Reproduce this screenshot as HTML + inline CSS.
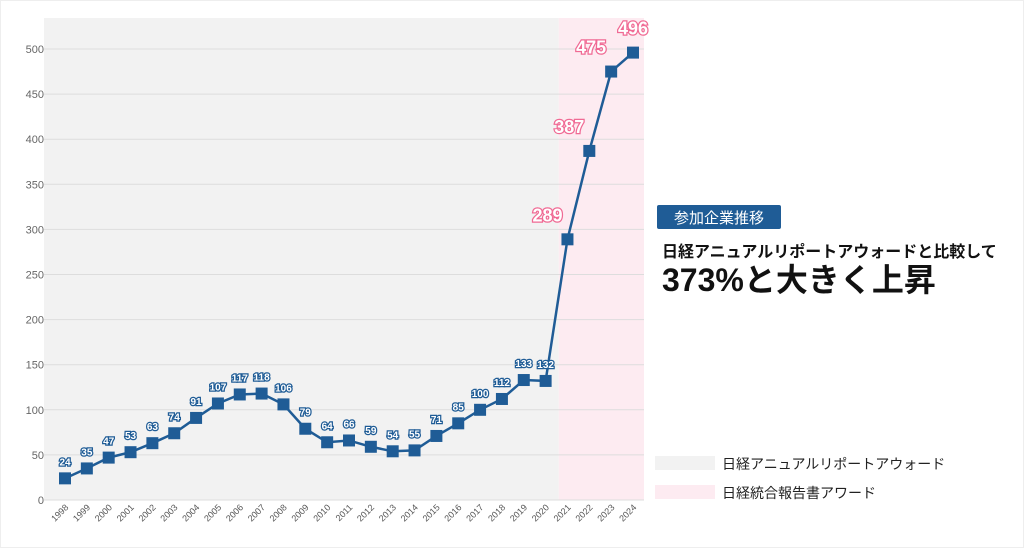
<!DOCTYPE html>
<html><head><meta charset="utf-8"><style>
body{margin:0;background:#fff;width:1024px;height:548px;overflow:hidden;font-family:"Liberation Sans","Noto Sans CJK JP",sans-serif}
svg text{font-family:"Liberation Sans","Noto Sans CJK JP",sans-serif}
</style></head><body>
<svg width="1024" height="548">
<rect x="0.5" y="0.5" width="1023" height="547" fill="#fff" stroke="#eee"/>
<g id="bg"></g><g id="grid"></g><g id="yt"></g><g id="xt"></g><g id="series"></g><g id="labels"></g>
<rect x="657" y="205" width="124" height="24" rx="2" fill="#1f5c96"/>
<text x="719" y="223" font-size="15" fill="#fff" text-anchor="middle">参加企業推移</text>
<text x="662" y="257" font-size="16" font-weight="bold" fill="#111">日経アニュアルリポートアウォードと比較して</text>
<text x="662" y="291" font-size="32" font-weight="bold" fill="#111">373%と大きく上昇</text>
<rect x="655" y="456" width="60" height="14" fill="#f2f2f2"/>
<text x="722" y="469" font-size="14" fill="#222">日経アニュアルリポートアウォード</text>
<rect x="655" y="485" width="60" height="14" fill="#fdebf1"/>
<text x="722" y="498" font-size="14" fill="#222">日経統合報告書アワード</text>
</svg>
<script>
const years=[1998,1999,2000,2001,2002,2003,2004,2005,2006,2007,2008,2009,2010,2011,2012,2013,2014,2015,2016,2017,2018,2019,2020,2021,2022,2023,2024];
const values=[24,35,47,53,63,74,91,107,117,118,106,79,64,66,59,54,55,71,85,100,112,133,132,289,387,475,496];
const yTicks=[0,50,100,150,200,250,300,350,400,450,500];
const ns="http://www.w3.org/2000/svg";
const X=i=>65+i*(568/26);
const Y=v=>500-v*0.902;
function mk(t,a,p){const e=document.createElementNS(ns,t);for(const k in a)e.setAttribute(k,a[k]);document.getElementById(p).appendChild(e);return e;}
let b=mk('rect',{x:44,y:18,width:X(22.6)-44,height:482,fill:'#f2f2f2'},'bg');

b=mk('rect',{x:X(22.6),y:18,width:644-X(22.6),height:482,fill:'#fdebf1'},'bg');

yTicks.forEach(v=>{let l=mk('line',{x1:44,x2:644,y1:Y(v),y2:Y(v),stroke:'#ddd','stroke-width':1},'grid');

let t=mk('text',{x:44,y:Y(v)+4,'font-size':11,fill:'#666','text-anchor':'end'},'yt');t.textContent=v;
});
years.forEach((y,i)=>{let t=mk('text',{x:X(i)+4,y:508,'font-size':9,fill:'#555','text-anchor':'end',transform:`rotate(-45 ${X(i)+4} 508)`},'xt');t.textContent=y;
});
let p=mk('polyline',{points:values.map((v,i)=>X(i)+','+Y(v)).join(' '),fill:'none',stroke:'#1f5c96','stroke-width':2.5},'series');

values.forEach((v,i)=>{let r=mk('rect',{x:X(i)-6,y:Y(v)-6,width:12,height:12,fill:'#1f5c96'},'series');

const big=i>=23;
let t=mk('text',{x:big?X(i)-20:X(i),y:big?Y(v)-18:Y(v)-13,'font-size':big?18:10,'font-weight':'bold',fill:'#fff',stroke:big?'#f06a94':'#1f5c96','stroke-width':big?2.5:2.5,'paint-order':'stroke','text-anchor':'middle'},'labels');
if(i==26){t.setAttribute('x',X(i));}
t.textContent=v;});
</script>
</body></html>
